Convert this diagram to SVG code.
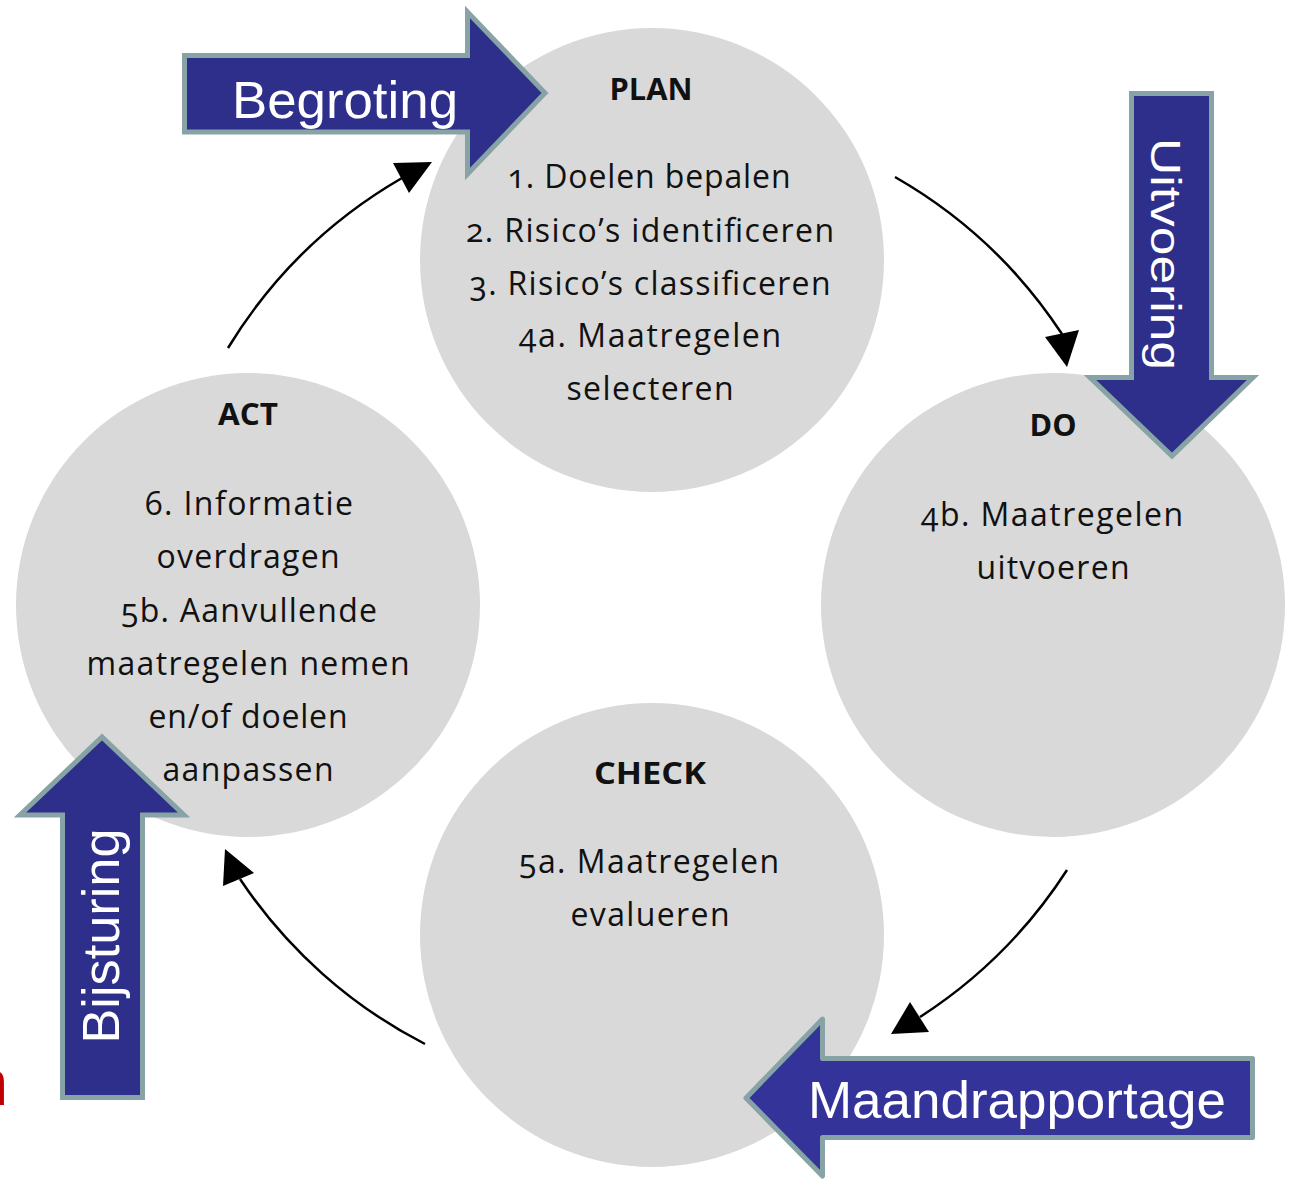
<svg xmlns="http://www.w3.org/2000/svg" width="1291" height="1179" viewBox="0 0 1291 1179">
<style>
.circle{fill:#D9D9D9;}
.title{font-family:"Open Sans","Liberation Sans",sans-serif;font-weight:bold;font-size:30px;fill:#111;text-anchor:middle;}
.body{font-family:"Open Sans","Liberation Sans",sans-serif;font-size:32px;fill:#111;text-anchor:middle;font-variant-numeric:oldstyle-nums;}
.conn{fill:none;stroke:#000;stroke-width:2.5;}
.head{fill:#000;}
.barrow{fill:#2E2F8A;stroke:#87A3A5;stroke-width:5;stroke-linejoin:miter;}
.barrow2{fill:#34339A;stroke:#87A3A5;stroke-width:5;stroke-linejoin:round;}
.blabel{font-family:"Liberation Sans",Arial,sans-serif;font-size:52px;fill:#fff;text-anchor:middle;}
</style>
<rect width="1291" height="1179" fill="#fff"/>

<g id="node-plan">
<circle class="circle" cx="652" cy="260" r="232"/>
<text class="title" x="651" y="100" textLength="83" lengthAdjust="spacingAndGlyphs">PLAN</text>
<text class="body" x="649" y="188" textLength="283" lengthAdjust="spacing">1. Doelen bepalen</text>
<text class="body" x="650" y="242" textLength="368" lengthAdjust="spacing">2. Risico’s identificeren</text>
<text class="body" x="650" y="295" textLength="361" lengthAdjust="spacing">3. Risico’s classificeren</text>
<text class="body" x="650" y="347" textLength="262" lengthAdjust="spacing">4a. Maatregelen</text>
<text class="body" x="650" y="400" textLength="167" lengthAdjust="spacing">selecteren</text>
</g>

<g id="node-do">
<circle class="circle" cx="1053" cy="605" r="232"/>
<text class="title" x="1053" y="436" textLength="47" lengthAdjust="spacingAndGlyphs">DO</text>
<text class="body" x="1052" y="526" textLength="262" lengthAdjust="spacing">4b. Maatregelen</text>
<text class="body" x="1053" y="579" textLength="153" lengthAdjust="spacing">uitvoeren</text>
</g>

<g id="node-check">
<circle class="circle" cx="652" cy="935" r="232"/>
<text class="title" x="650" y="784" textLength="112" lengthAdjust="spacingAndGlyphs">CHECK</text>
<text class="body" x="649" y="873" textLength="260" lengthAdjust="spacing">5a. Maatregelen</text>
<text class="body" x="650" y="926" textLength="159" lengthAdjust="spacing">evalueren</text>
</g>

<g id="node-act">
<circle class="circle" cx="248" cy="605" r="232"/>
<text class="title" x="248" y="425" textLength="60" lengthAdjust="spacingAndGlyphs">ACT</text>
<text class="body" x="249" y="515" textLength="208" lengthAdjust="spacing">6. Informatie</text>
<text class="body" x="248" y="568" textLength="183" lengthAdjust="spacing">overdragen</text>
<text class="body" x="249" y="622" textLength="256" lengthAdjust="spacing">5b. Aanvullende</text>
<text class="body" x="248" y="675" textLength="323" lengthAdjust="spacing">maatregelen nemen</text>
<text class="body" x="248" y="728" textLength="199" lengthAdjust="spacing">en/of doelen</text>
<text class="body" x="248" y="781" textLength="171" lengthAdjust="spacing">aanpassen</text>
</g>

<g id="connectors">
<path class="conn" d="M895,177 A493,493 0 0 1 1062,334"/>
<polygon class="head" points="1045,337 1079,330 1067,367"/>
<path class="conn" d="M1067,870 A493,493 0 0 1 920,1017"/>
<polygon class="head" points="910,1002 929,1032 891,1034"/>
<path class="conn" d="M425,1044 A493,493 0 0 1 240,879"/>
<polygon class="head" points="223,886 254,873 225,849"/>
<path class="conn" d="M228,348 A493,493 0 0 1 402,178"/>
<polygon class="head" points="393,163 409,193 432,162"/>
</g>

<g id="arrow-begroting">
<polygon class="barrow" points="184.5,55.5 467.5,55.5 467.5,12 545,93 467.5,174 467.5,132 184.5,132"/>
<text class="blabel" x="345" y="118" textLength="226" lengthAdjust="spacingAndGlyphs">Begroting</text>
</g>

<g id="arrow-uitvoering">
<polygon class="barrow" points="1131.5,93.5 1211.5,93.5 1211.5,377.5 1253,377.5 1172,456 1090,377.5 1131.5,377.5"/>
<text class="blabel" transform="translate(1151,254) rotate(90) scale(1,0.8)" x="0" y="0" textLength="232" lengthAdjust="spacingAndGlyphs">Uitvoering</text>
</g>

<g id="arrow-maandrapportage">
<polygon class="barrow2" points="1252.5,1058.5 822.5,1058.5 822.5,1019 746,1098 822.5,1176 822.5,1137.5 1252.5,1137.5"/>
<text class="blabel" x="1017" y="1118" textLength="418" lengthAdjust="spacingAndGlyphs">Maandrapportage</text>
</g>

<g id="arrow-bijsturing">
<polygon class="barrow" points="62.5,1097.5 62.5,815 20,815 102,737 184,815 142.5,815 142.5,1097.5"/>
<text class="blabel" transform="translate(119,936) rotate(-90)" x="0" y="0" textLength="215" lengthAdjust="spacingAndGlyphs">Bijsturing</text>
</g>

<text x="8" y="1105" font-family="Liberation Sans, Arial, sans-serif" font-size="64" fill="#C00000" text-anchor="end">n</text>
</svg>
